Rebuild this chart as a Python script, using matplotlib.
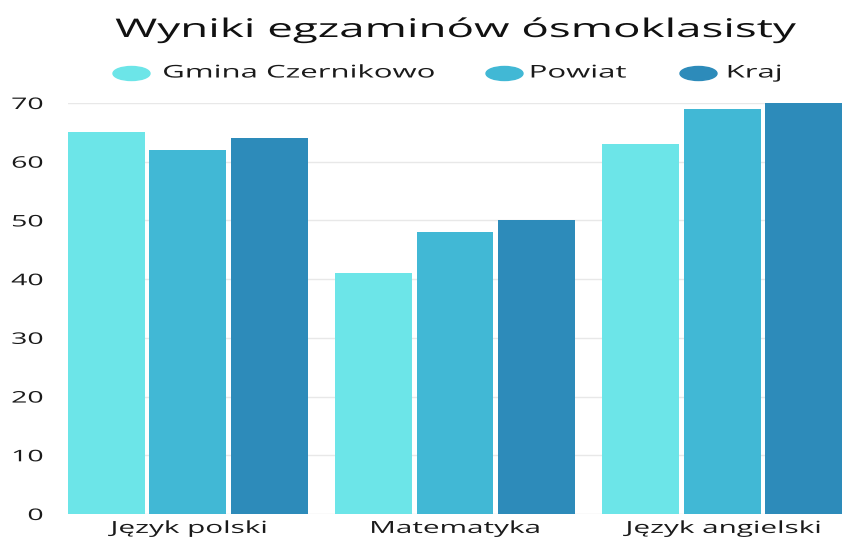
import numpy as np
import matplotlib.pyplot as plt
from matplotlib.patches import Ellipse
from matplotlib.patheffects import AbstractPathEffect
from matplotlib.transforms import Affine2D

plt.rcParams['font.family'] = ['Open Sans', 'DejaVu Sans']

subjects = ['Język polski', 'Matematyka', 'Język angielski']
series = ['Gmina Czernikowo', 'Powiat', 'Kraj']
gmina = [65, 41, 63]
powiat = [62, 48, 69]
kraj = [64, 50, 70]
colors = ['#6ce5e8', '#41b8d5', '#2d8bba']

STRETCH = 1.78
TXT = '#1a1a1a'


class HStretch(AbstractPathEffect):
    # the reference is a horizontally stretched picture, so widen the glyphs
    def __init__(self, sx=STRETCH, anchor='center'):
        super().__init__()
        self.sx = sx
        self.anchor = anchor

    def draw_path(self, renderer, gc, tpath, affine, rgbFace=None):
        ext = tpath.get_extents(affine)
        if self.anchor == 'left':
            cx = ext.x0
        elif self.anchor == 'right':
            cx = ext.x1
        else:
            cx = (ext.x0 + ext.x1) / 2
        t = affine + Affine2D().translate(-cx, 0).scale(self.sx, 1).translate(cx, 0)
        renderer.draw_path(gc, tpath, t, rgbFace)


W, H = 842, 538
fig = plt.figure(figsize=(W / 100, H / 100), dpi=100)
ax = fig.add_axes([68 / W, 24 / H, 1 - 68 / W, (514 - 103) / H])

x = np.arange(len(subjects))
w = 0.287
step = 0.305
for i, (vals, c) in enumerate(zip([gmina, powiat, kraj], colors)):
    ax.bar(x + (i - 1) * step, vals, width=w, color=c, zorder=3)

ax.set_xlim(-0.448, 2.448)
ax.set_ylim(0, 70)
ax.set_yticks(range(0, 71, 10))
ax.set_xticks(x)
ax.set_xticklabels(subjects)
ax.grid(axis='y', color='#e8e8e8', linewidth=1, zorder=0)
for s in ax.spines.values():
    s.set_visible(False)
ax.tick_params(axis='both', length=0, colors=TXT)
ax.tick_params(axis='x', labelsize=12, pad=5)
ax.tick_params(axis='y', labelsize=11.5, pad=18)
for lbl in ax.get_xticklabels():
    lbl.set_path_effects([HStretch()])
for lbl in ax.get_yticklabels():
    lbl.set_path_effects([HStretch(anchor='right')])

fig.text(456 / W, 1 - 37 / H, 'Wyniki egzaminów ósmoklasisty', ha='center',
         va='baseline', fontsize=18.5, color='#111111',
         path_effects=[HStretch()])

# legend, laid out by hand so the stretched labels get their room
dot_x = [131.5, 504.5, 698.5]
text_x = [163, 530, 727]
for name, c, dx, tx in zip(series, colors, dot_x, text_x):
    fig.add_artist(Ellipse((dx / W, 1 - 73.5 / H), 37 / W, 14 / H,
                           transform=fig.transFigure, color=c))
    fig.text(tx / W, 1 - 73.5 / H, name, ha='left', va='center', fontsize=12.6,
             color=TXT, path_effects=[HStretch(anchor='left')])

fig.savefig('out.png', dpi=100)
